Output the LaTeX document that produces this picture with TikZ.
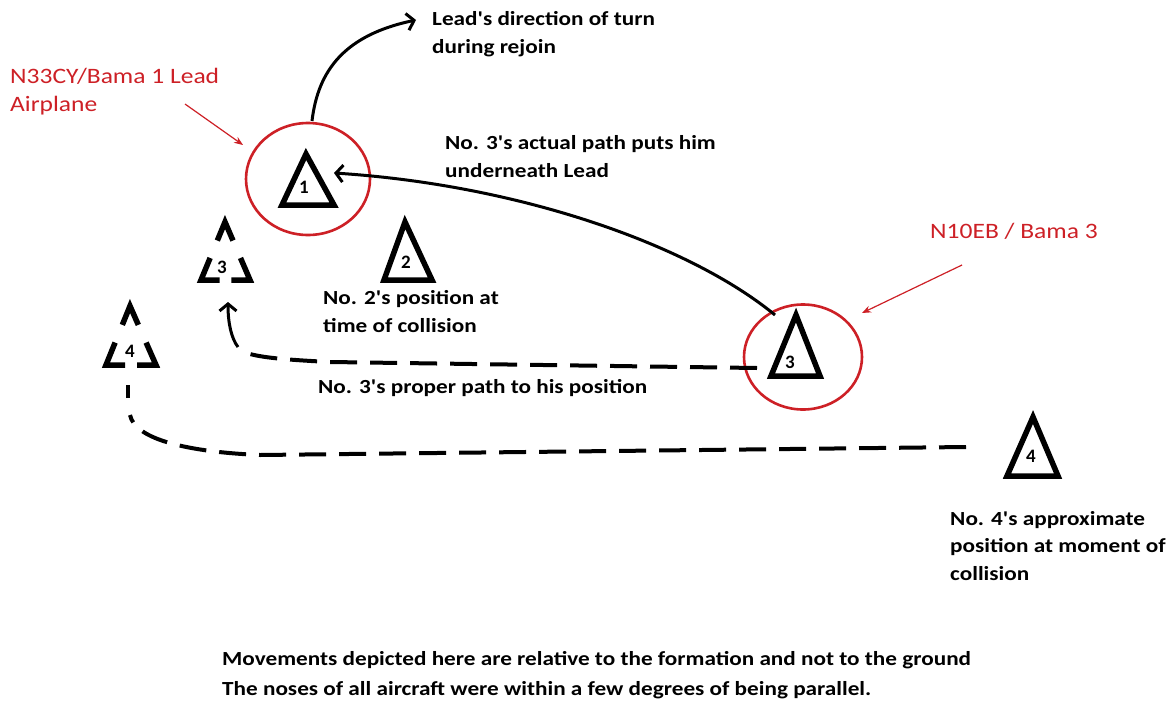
\documentclass[tikz,border=0pt]{standalone}
\usepackage{fontspec}
\setmainfont{Carlito}
\newfontfamily\wide[FakeStretch=1.16]{Carlito}
\usetikzlibrary{arrows.meta,shapes.geometric,calc}
\definecolor{redc}{RGB}{205,32,38}
\tikzset{
  tri/.style={line width=5.5pt, line join=miter},
  ghostseg/.style={line width=5.5pt, line join=miter},
  num/.style={inner sep=0pt, font=\fontsize{19}{19}\selectfont\bfseries},
  lbl/.style={anchor=base west, align=left, inner sep=0pt, font=\wide\fontsize{20}{27.3}\selectfont\bfseries},
  rlbl/.style={anchor=base west, align=left, inner sep=0pt, text=redc, font=\wide\fontsize{22}{28}\selectfont},
  ring/.style={draw=redc, line width=2.6pt, inner sep=0pt},
  conn/.style={line width=3pt},
  dpath/.style={line width=4pt, dash pattern=on 27pt off 13pt},
  barb/.style={-{Straight Barb[length=7pt,width=17pt,line width=3pt]}},
  rarrow/.style={draw=redc, line width=1.2pt, -{Stealth[length=9pt,width=7pt]}}
}
\newcommand{\ghosttri}[3]{%
  \draw[ghostseg] ($(#1)!0.32!(#2)$) -- (#1) -- ($(#1)!0.32!(#3)$);
  \draw[ghostseg] ($(#1)!0.62!(#2)$) -- (#2) -- ($(#2)!0.38!(#3)$);
  \draw[ghostseg] ($(#2)!0.62!(#3)$) -- (#3) -- ($(#1)!0.62!(#3)$);
}
\begin{document}
\begin{tikzpicture}[x=1pt,y=-1pt]
\useasboundingbox (0,0) rectangle (1174,704);
% circles
\node[ring, ellipse, minimum width=124pt, minimum height=112pt] (c1) at (308,179) {};
\node[ring, ellipse, minimum width=118pt, minimum height=105pt] (c3) at (803,357) {};
% triangles
\draw[tri] (306,154) -- (282,205) -- (334,205) -- cycle;
\node[num] (n1) at (304,187) {1};
\draw[tri] (405,222) -- (384,280) -- (432,280) -- cycle;
\node[num] (n2) at (406,262) {2};
\coordinate (g3a) at (225,222);
\coordinate (g3b) at (201,280);
\coordinate (g3c) at (250,280);
\ghosttri{g3a}{g3b}{g3c}
\node[num] (g3) at (222,267) {3};
\coordinate (g4a) at (130,306);
\coordinate (g4b) at (106,365);
\coordinate (g4c) at (156,365);
\ghosttri{g4a}{g4b}{g4c}
\node[num] (g4) at (130,351) {4};
\draw[tri] (796,315) -- (771,376) -- (820,376) -- cycle;
\node[num] (n3) at (790,362) {3};
\draw[tri] (1033,417) -- (1007,476) -- (1058,476) -- cycle;
\node[num] (n4) at (1031,456) {4};
% coordinates for connectors
\coordinate (leadtop) at (312,121);
\coordinate (leadtip) at (416,20);
\coordinate (n3top) at (775,315);
\coordinate (leadright) at (334,173);
\coordinate (p3start) at (757,368);
\coordinate (p3end) at (228,302);
\coordinate (p4start) at (966,447);
\coordinate (p4end) at (128,385);
\coordinate (r1s) at (185,104);
\coordinate (r1e) at (243,145);
\coordinate (r3s) at (962,265);
\coordinate (r3e) at (862,313);
% connectors
\draw[conn, barb] (leadtop) .. controls (318,70) and (345,35) .. (leadtip);
\draw[conn, barb] (n3top) .. controls (690,245) and (520,185) .. (leadright);
\draw[dpath] (p3start) -- (330,362) .. controls (290,360) and (265,358) .. (250,354);
\draw[conn, barb] (238,347) .. controls (231,338) and (228,322) .. (p3end);
\draw[dpath] (p4start) -- (260,455) .. controls (190,452) and (135,440) .. (130,415);
\draw[line width=4pt] (128,398) -- (p4end);
\draw[rarrow] (r1s) -- (r1e);
\draw[rarrow] (r3s) -- (r3e);
% labels (base anchor = baseline of the last line)
\node[lbl] (t1) at (432,53) {Lead's direction of turn\\during rejoin};
\node[lbl] (t2) at (445,177) {No. 3's actual path puts him\\underneath Lead};
\node[lbl] (t3) at (323,332) {No. 2's position at\\time of collision};
\node[lbl] (t4) at (318,393) {No. 3's proper path to his position};
\node[lbl] (t5) at (950,580) {No. 4's approximate\\position at moment of\\collision};
\node[lbl] (t6) at (222,665) {Movements depicted here are relative to the formation and not to the ground};
\node[lbl] (t7) at (222,695) {The noses of all aircraft were within a few degrees of being parallel.};
\node[rlbl] (r1) at (10,111) {N33CY/Bama 1 Lead\\Airplane};
\node[rlbl] (r3) at (930,238) {N10EB / Bama 3};
\end{tikzpicture}
\end{document}
